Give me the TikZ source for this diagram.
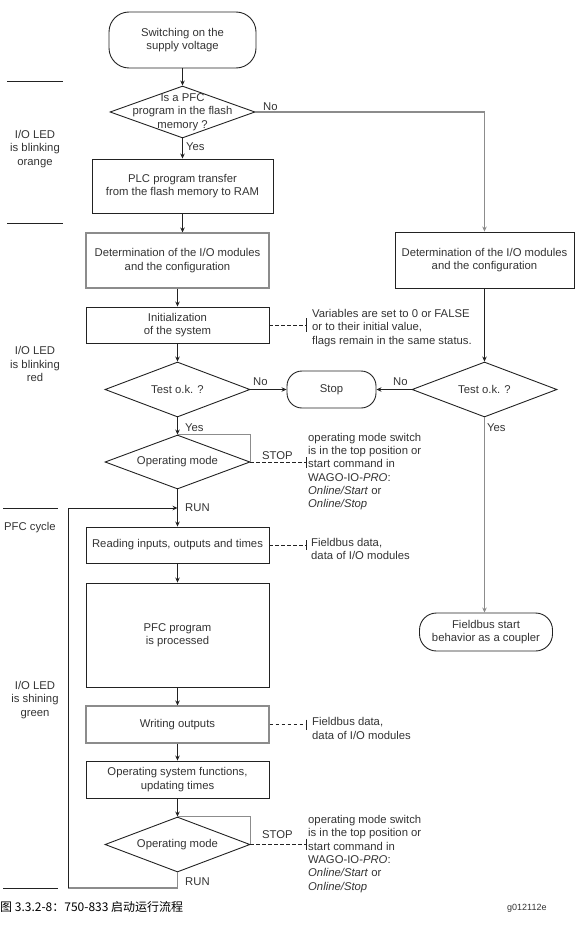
\documentclass[tikz,border=0pt]{standalone}
\usepackage{fontspec}
\setmainfont{Liberation Sans}
\newfontfamily\cjkfont{Noto Sans CJK SC}
\usetikzlibrary{shapes.geometric,arrows.meta}
\definecolor{txtc}{HTML}{333333}
\definecolor{linec}{HTML}{222222}
\definecolor{grayc}{HTML}{8C8C8C}
\begin{document}
\begin{tikzpicture}[x=1pt,y=-1pt,
  tx/.style={font=\fontsize{11.3}{13.3}\selectfont, text=txtc, align=center, inner sep=0},
  box/.style={draw=linec, line width=0.9pt, rectangle, inner sep=0},
  gbox/.style={draw=grayc, line width=1.1pt, rectangle, inner sep=0},
  dia/.style={draw=linec, line width=0.9pt, diamond, inner sep=0},
  arr/.style={draw=linec, line width=0.9pt, -{Stealth[length=5pt,width=4.5pt]}},
  garr/.style={draw=grayc, line width=1.4pt, -{Stealth[length=5pt,width=4.5pt]}},
  gline/.style={draw=grayc, line width=1.4pt},
  dsh/.style={draw=linec, line width=0.8pt, dash pattern=on 3.5pt off 2.5pt},
  barst/.style={draw=linec, line width=0.9pt},
  rule/.style={draw=linec, line width=0.9pt}]
\useasboundingbox (0,0) rectangle (575,939);

% main column
\node[box, rounded corners=20, minimum width=147, minimum height=56, tx] (start) at (182.5,40) {Switching on the\\supply voltage};
\node[dia, minimum width=145, minimum height=52] (d1) at (182.5,112) {};
\node[tx] (d1t) at (182.5,112) {Is a PFC\\program in the flash\\memory ?};
\node[box, minimum width=181, minimum height=54, tx] (plc) at (182.5,186) {PLC program transfer\\from the flash memory to RAM};
\node[gbox, minimum width=183, minimum height=55, tx] (det1) at (177.5,260.5) {Determination of the I/O modules\\and the configuration};
\node[box, minimum width=179, minimum height=56, tx] (det2) at (484.5,260) {Determination of the I/O modules\\and the configuration};
\node[box, minimum width=183, minimum height=36, tx] (init) at (177.5,325) {Initialization\\of the system};
\node[dia, minimum width=145, minimum height=55] (test1) at (177.5,389.5) {};
\node[tx] (test1t) at (177.5,389.5) {Test o.k. ?};
\node[box, rounded corners=15, minimum width=89, minimum height=37, tx] (stop) at (331.5,389.5) {Stop};
\node[dia, minimum width=145, minimum height=55] (test2) at (484.5,389.5) {};
\node[tx] (test2t) at (484.5,389.5) {Test o.k. ?};
\node[dia, minimum width=145, minimum height=54] (op1) at (177.5,462) {};
\node[tx] (op1t) at (177.5,462) {Operating mode};
\node[box, minimum width=183, minimum height=36, tx] (read) at (177.5,545) {Reading inputs, outputs and times};
\node[box, minimum width=183, minimum height=104, tx] (pfc) at (177.5,635) {PFC program\\is processed};
\node[gbox, minimum width=183, minimum height=37, tx] (write) at (177.5,724.5) {Writing outputs};
\node[box, minimum width=183, minimum height=37, tx] (ossys) at (177.5,779.5) {Operating system functions,\\updating times};
\node[dia, minimum width=145, minimum height=55] (op2) at (177.5,844.5) {};
\node[tx] (op2t) at (177.5,844.5) {Operating mode};
\node[box, rounded corners=17, minimum width=133, minimum height=38, tx] (fbs) at (486,632) {Fieldbus start\\behavior as a coupler};

% connectors
\draw[arr] (start) -- (d1);
\draw[arr] (d1.south) -- (plc.north);
\draw[garr] (d1.east) -| (det2.north);
\draw[arr] (plc.south) -- (plc.south|-det1.north);
\draw[arr] (det1) -- (init);
\draw[arr] (init) -- (test1);
\draw[arr] (test1.east) -- (stop.west);
\draw[arr] (det2) -- (test2);
\draw[arr] (test2.west) -- (stop.east);
\draw[garr] (test2.south) -- (test2.south|-fbs.north);
\draw[arr] (test1) -- (op1);
\draw[gline] (op1.north) -| (op1.east);
\draw[arr] (op1.south) -- (read.north);
\draw[arr] (read) -- (pfc);
\draw[arr] (pfc) -- (write);
\draw[arr] (write) -- (ossys);
\draw[arr] (ossys) -- (op2);
\draw[gline] (op2.north) -| (op2.east);

\coordinate (lb) at (177.5,888);
\coordinate (ll) at (68,888);
\coordinate (lt) at (68,508);
\coordinate (lr) at (177.5,508);
\draw[gline] (op2.south) -- (lb) -- (ll);
\draw[arr] (ll) -- (lt) -- (lr);

% dashed annotation links
\coordinate (b0) at (306,325);
\coordinate (b1) at (306,462);
\coordinate (b2) at (306,545);
\coordinate (b3) at (306,724.5);
\coordinate (b4) at (306,844.5);
\draw[dsh] (init.east) -- (b0);
\draw[barst] (b0) ++(0,-7) -- ++(0,14);
\draw[dsh] (op1.east) -- (b1);
\draw[barst] (b1) ++(0,-5) -- ++(0,11);
\draw[dsh] (read.east) -- (b2);
\draw[barst] (b2) ++(0,-5) -- ++(0,10);
\draw[dsh] (write.east) -- (b3);
\draw[barst] (b3) ++(0,-5) -- ++(0,10);
\draw[dsh] (op2.east) -- (b4);
\draw[barst] (b4) ++(0,-6) -- ++(0,11);

% connector labels
\node[tx, anchor=west] (lyes1) at (186,147) {Yes};
\node[tx, anchor=west] (lno1) at (263,107) {No};
\node[tx, anchor=west] (lno2) at (253,382) {No};
\node[tx, anchor=west] (lno3) at (393,382) {No};
\node[tx, anchor=west] (lyes2) at (185,428) {Yes};
\node[tx, anchor=west] (lyes3) at (487,428) {Yes};
\node[tx, anchor=west] (lrun1) at (185,508) {RUN};
\node[tx, anchor=west] (lstop1) at (262,456) {STOP};
\node[tx, anchor=west] (lstop2) at (262,835) {STOP};
\node[tx, anchor=west] (lrun2) at (185,882) {RUN};

% annotations
\node[tx, align=left, anchor=west] (an0) at (312,328) {Variables are set to 0 or FALSE\\or to their initial value,\\flags remain in the same status.};
\node[tx, align=left, anchor=west] (an1) at (308,471.5) {operating mode switch\\is in the top position or\\start command in\\WAGO-IO-\textit{PRO}:\\\textit{Online/Start} or\\\textit{Online/Stop}};
\node[tx, align=left, anchor=west] (an2) at (311,549) {Fieldbus data,\\data of I/O modules};
\node[tx, align=left, anchor=west] (an3) at (312,728.5) {Fieldbus data,\\data of I/O modules};
\node[tx, align=left, anchor=west] (an4) at (308,854) {operating mode switch\\is in the top position or\\start command in\\WAGO-IO-\textit{PRO}:\\\textit{Online/Start} or\\\textit{Online/Stop}};

% left side
\draw[rule] (7,81) -- (63,81);
\draw[rule] (7,223) -- (63,223);
\draw[rule] (3,508) -- (58,508);
\draw[rule] (3,888) -- (58,888);
\node[tx] (led1) at (35,149) {I/O LED\\is blinking\\orange};
\node[tx] (led2) at (35,364) {I/O LED\\is blinking\\red};
\node[tx, anchor=west] (cyc) at (4,528) {PFC cycle};
\node[tx] (led3) at (35,700) {I/O LED\\is shining\\green};

% caption
\node[anchor=west, inner sep=0, font=\cjkfont\fontsize{12}{14}\selectfont] (cap) at (0,907) {图 3.3.2-8：750-833 启动运行流程};
\node[anchor=west, inner sep=0, font=\fontsize{9}{11}\selectfont, text=txtc] (code) at (507,908) {g012112e};
\end{tikzpicture}
\end{document}
